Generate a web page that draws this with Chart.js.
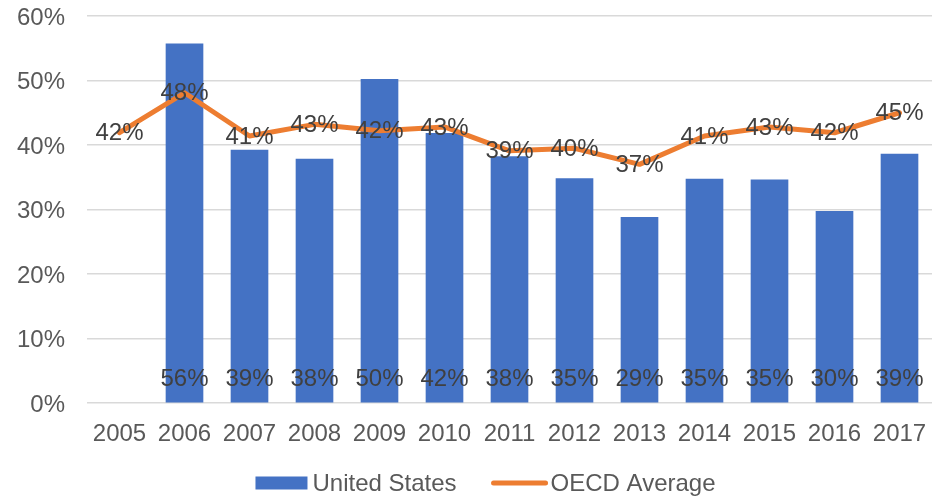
<!DOCTYPE html>
<html>
<head>
<meta charset="utf-8">
<script src="https://cdn.jsdelivr.net/npm/chart.js@4"></script>
<style>
  html, body { margin: 0; padding: 0; background: #fff; }
  #wrap { width: 951px; height: 498px; position: relative; }
</style>
</head>
<body>
<div id="wrap"><canvas id="c"></canvas></div>
<script>
const years = ['2005', '2006', '2007', '2008', '2009', '2010', '2011', '2012', '2013', '2014', '2015', '2016', '2017'];
const usValues = [null, 55.7, 39.2, 37.8, 50.2, 41.8, 38.2, 34.8, 28.8, 34.7, 34.6, 29.7, 38.6];
const oecdValues = [41.9, 48.1, 41.4, 43.2, 42.2, 42.8, 39.1, 39.5, 37.0, 41.4, 42.8, 41.9, 45.0];
const yTicks = [0, 10, 20, 30, 40, 50, 60];

const FONT = '"Liberation Sans", Arial, sans-serif';
const TEXT = '#595959', LABEL = '#404040';
const FS = 24;

// Value labels: bars get theirs just above the base, the line gets them centred on each point.
const valueLabels = {
  id: 'valueLabels',
  afterDatasetsDraw(chart) {
    const ctx = chart.ctx;
    const base = chart.scales.y.getPixelForValue(0);
    ctx.save();
    ctx.font = FS + 'px ' + FONT;
    ctx.fillStyle = LABEL;
    ctx.textAlign = 'center';
    ctx.textBaseline = 'middle';
    chart.data.datasets.forEach((d, di) => {
      const meta = chart.getDatasetMeta(di);
      meta.data.forEach((el, i) => {
        const v = d.data[i];
        if (v == null) return;
        const y = d.type === 'bar' ? base - 24 : el.y + 1;
        ctx.fillText(Math.round(v) + '%', el.x, y);
      });
    });
    ctx.restore();
  }
};

// Office-style legend: wide bar swatch, long rounded line swatch, big gap between entries.
const officeLegend = {
  id: 'officeLegend',
  afterDraw(chart) {
    const ctx = chart.ctx;
    const bar = chart.data.datasets.find(d => d.type === 'bar');
    const line = chart.data.datasets.find(d => d.type === 'line');
    ctx.save();
    ctx.font = FS + 'px ' + FONT;
    ctx.textBaseline = 'middle';
    const w1 = ctx.measureText(bar.label).width, w2 = ctx.measureText(line.label).width;
    const total = 52 + 5 + w1 + 35 + 56 + 3 + w2;
    let x = chart.width / 2 + 10 - total / 2;
    const y = 483;
    ctx.fillStyle = bar.backgroundColor;
    ctx.fillRect(x, y - 6.5, 52, 13);
    x += 57;
    ctx.fillStyle = TEXT;
    ctx.fillText(bar.label, x, y + 1);
    x += w1 + 35;
    ctx.strokeStyle = line.borderColor;
    ctx.lineWidth = 5;
    ctx.lineCap = 'round';
    ctx.beginPath();
    ctx.moveTo(x + 2, y); ctx.lineTo(x + 54, y);
    ctx.stroke();
    x += 59;
    ctx.fillText(line.label, x, y + 1);
    ctx.restore();
  }
};

new Chart(document.getElementById('c'), {
  data: {
    labels: years,
    datasets: [
      { type: 'line', label: 'OECD Average', data: oecdValues, borderColor: '#ED7D31', backgroundColor: '#ED7D31',
        borderWidth: 5, pointRadius: 0, borderCapStyle: 'round', borderJoinStyle: 'round', tension: 0, order: 0 },
      { type: 'bar', label: 'United States', data: usValues, backgroundColor: '#4472C4', barThickness: 37, order: 1 },
    ]
  },
  options: {
    responsive: true, maintainAspectRatio: false, animation: false,
    layout: { padding: { top: 16, right: 19, left: 0, bottom: 47 } },
    scales: {
      x: {
        grid: { display: false }, border: { display: false },
        ticks: { color: TEXT, font: { family: FONT, size: FS }, padding: 9, maxRotation: 0, autoSkip: false },
        afterFit: s => { s.height = 48; s.paddingLeft = 0; s.paddingRight = 0; }
      },
      y: {
        min: 0, max: 60,
        afterBuildTicks: s => { s.ticks = yTicks.map(v => ({ value: v })); },
        grid: { color: '#D9D9D9', lineWidth: 1.5, drawTicks: false }, border: { display: false },
        ticks: { color: TEXT, font: { family: FONT, size: FS }, padding: 22, labelOffset: 2, callback: v => v + '%' },
        afterFit: s => { s.width = 87; s.paddingTop = 0; s.paddingBottom = 0; }
      }
    },
    plugins: {
      tooltip: { enabled: false },
      legend: { display: false }
    }
  },
  plugins: [valueLabels, officeLegend]
});
</script>
</body>
</html>
